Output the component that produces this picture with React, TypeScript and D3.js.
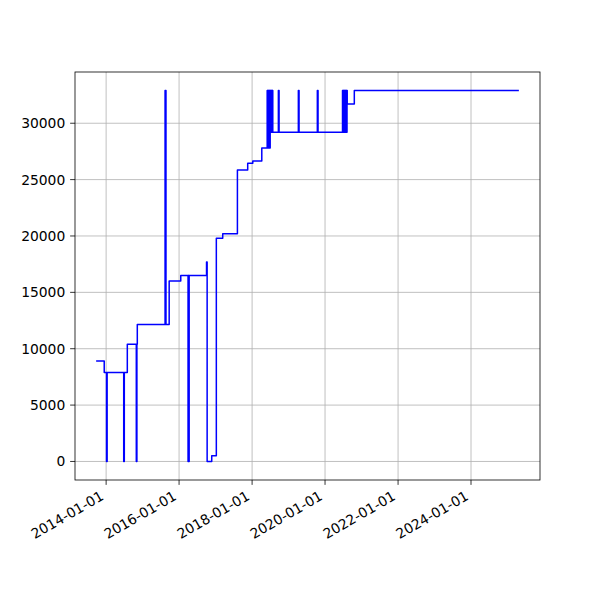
import React from "react";
import * as d3 from "d3";

// Step series: value holds from each date until the next date
const dates: string[] = [
  "2013-09-23", "2013-12-13", "2014-01-05", "2014-01-11", "2014-06-26", "2014-07-02",
  "2014-08-01", "2014-10-30", "2014-11-05", "2014-11-09",
  "2015-08-14", "2015-08-23", "2015-09-24", "2016-01-18",
  "2016-03-31", "2016-04-04", "2016-04-07", "2016-04-11",
  "2016-10-02", "2016-10-08", "2016-11-23", "2017-01-08", "2017-03-13",
  "2017-08-07", "2017-11-18", "2018-01-08", "2018-04-08",
  "2018-06-01", "2018-06-02", "2018-06-06", "2018-06-07", "2018-06-11", "2018-06-12",
  "2018-06-16", "2018-06-17", "2018-06-21", "2018-06-22", "2018-06-26", "2018-06-27",
  "2018-07-01", "2018-07-02", "2018-07-06", "2018-07-07", "2018-07-11", "2018-07-12",
  "2018-07-16", "2018-07-17", "2018-07-21", "2018-07-22", "2018-07-25", "2018-07-27",
  "2018-09-21", "2018-09-28", "2019-04-09", "2019-04-16", "2019-10-16", "2019-10-23",
  "2020-06-24", "2020-06-25", "2020-06-29", "2020-06-30", "2020-07-04", "2020-07-05",
  "2020-07-09", "2020-07-10", "2020-07-14", "2020-07-15", "2020-07-19", "2020-07-20",
  "2020-07-24", "2020-07-25", "2020-07-29", "2020-07-30", "2020-08-03", "2020-08-04",
  "2020-08-08", "2020-08-10",
  "2020-10-20", "2025-04-24",
];

const values: number[] = [
  8900, 7900, 0, 7900, 0, 7900,
  10400, 0, 10400, 12150,
  32900, 12150, 16000, 16500,
  0, 16500, 0, 16500,
  17700, 0, 500, 19800, 20200,
  25850, 26450, 26650, 27800,
  32900, 27800, 32900, 27800, 32900, 27800,
  32900, 27800, 32900, 27800, 32900, 27800,
  32900, 29200, 32900, 29200, 32900, 29200,
  32900, 29200, 32900, 29200, 32900, 29200,
  32900, 29200, 32900, 29200, 32900, 29200,
  32900, 29200, 32900, 29200, 32900, 29200,
  32900, 29200, 32900, 29200, 32900, 29200,
  32900, 29200, 32900, 29200, 32900, 29200,
  32900, 31700,
  32900, 32900,
];

const yTicks: number[] = [0, 5000, 10000, 15000, 20000, 25000, 30000];
const xTickDates: string[] = [
  "2014-01-01", "2016-01-01", "2018-01-01", "2020-01-01", "2022-01-01", "2024-01-01",
];

const W = 600;
const H = 600;
const L = 75;
const R = 540;
const T = 72;
const B = 480;
const FONT = "'DejaVu Sans', sans-serif";
const FS = 13.89;
const TICK = 4.86;
const PAD = 4.86;

export default function App() {
  const parse = d3.utcParse("%Y-%m-%d");
  const pts = dates.map((d, i) => ({ t: parse(d) as Date, v: values[i] }));
  const [t0, t1] = d3.extent(pts, (p) => p.t.getTime()) as [number, number];
  const tpad = (t1 - t0) * 0.05;
  const x = d3.scaleUtc().domain([new Date(t0 - tpad), new Date(t1 + tpad)]).range([L, R]);
  const vmin = d3.min(values) as number;
  const vmax = d3.max(values) as number;
  const vpad = (vmax - vmin) * 0.05;
  const y = d3.scaleLinear().domain([vmin - vpad, vmax + vpad]).range([B, T]);

  const line = d3
    .line<{ t: Date; v: number }>()
    .x((p) => x(p.t))
    .y((p) => y(p.v))
    .curve(d3.curveStepAfter);

  const fmt = d3.utcFormat("%Y-%m-%d");
  const xt = xTickDates.map((s) => parse(s) as Date);

  return (
    <svg
      width={W}
      height={H}
      style={{ position: "absolute", left: 0, top: 0, background: "#fff" }}
      fontFamily={FONT}
    >
      <rect x={0} y={0} width={W} height={H} fill="#fff" />
      <defs>
        <clipPath id="plotclip">
          <rect x={L} y={T} width={R - L} height={B - T} />
        </clipPath>
      </defs>
      {/* grid */}
      <g stroke="#b0b0b0" strokeWidth={0.8}>
        {xt.map((d, i) => (
          <line key={"gx" + i} x1={x(d)} x2={x(d)} y1={T} y2={B} />
        ))}
        {yTicks.map((v, i) => (
          <line key={"gy" + i} x1={L} x2={R} y1={y(v)} y2={y(v)} />
        ))}
      </g>
      {/* data */}
      <path
        d={line(pts) || ""}
        fill="none"
        stroke="#0000ff"
        strokeWidth={1.5}
        strokeLinejoin="round"
        clipPath="url(#plotclip)"
      />
      {/* spines */}
      <rect x={L} y={T} width={R - L} height={B - T} fill="none" stroke="#000" strokeWidth={0.8} />
      {/* y ticks */}
      <g>
        {yTicks.map((v, i) => (
          <g key={"yt" + i}>
            <line x1={L - TICK} x2={L} y1={y(v)} y2={y(v)} stroke="#000" strokeWidth={0.8} />
            <text
              x={L - TICK - PAD}
              y={y(v)}
              textAnchor="end"
              dominantBaseline="central"
              fontSize={FS}
              fill="#000"
            >
              {String(v)}
            </text>
          </g>
        ))}
      </g>
      {/* x ticks */}
      <g>
        {xt.map((d, i) => {
          const tx = x(d);
          const ax = tx - 1.55;
          const ay = B + TICK + PAD + 9.2;
          return (
            <g key={"xt" + i}>
              <line x1={tx} x2={tx} y1={B} y2={B + TICK} stroke="#000" strokeWidth={0.8} />
              <text
                x={ax}
                y={ay}
                textAnchor="end"
                fontSize={FS}
                fill="#000"
                transform={`rotate(-30, ${ax}, ${ay})`}
              >
                {fmt(d)}
              </text>
            </g>
          );
        })}
      </g>
    </svg>
  );
}
